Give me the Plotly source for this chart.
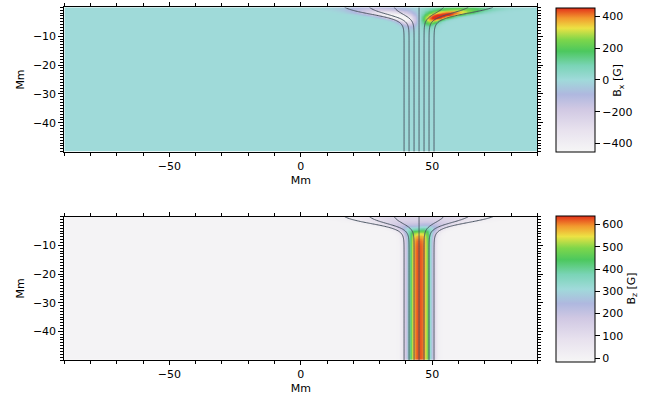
import numpy as np
import plotly.graph_objects as go

# ---- tick labels / ranges ----
X_TICKS = [-50, 0, 50]
Y_TICKS = [-40, -30, -20, -10]
CB1_TICKS = [-400, -200, 0, 200, 400]
CB2_TICKS = [0, 100, 200, 300, 400, 500, 600]
X_RANGE = [-90, 90]
Z_RANGE = [-50, 0]
BX_RANGE = [-455, 450]
BZ_RANGE = [-15, 640]

# ---- flux tube parameters ----
TUBE_CENTER = 45.0          # Mm
TUBE_HALF_WIDTH = 4.8       # Mm (deep)
PROFILE_POWER = 3
TUBE_PEAK_BZ = 625.0        # G
SURFACE_HALF_WIDTH = [26.0, 27.0]   # left, right (Mm)
FLARE_HEIGHT = [-2.4, -2.0]         # left, right (Mm)
FLARE_SCALE = [1.1, 1.15]           # left, right (Mm)
FIELD_LINE_FIRST = 39.3
FIELD_LINE_LAST = 50.7
FIELD_LINE_STEP = 1.9

# ---- colour table (IDL-like) ----
COLORSCALE = [
    [0.00, "#f6f6f6"],
    [0.15, "#e8e2ee"],
    [0.30, "#d0c8e3"],
    [0.40, "#afb8df"],
    [0.50, "#a0dada"],
    [0.60, "#7ad4b6"],
    [0.70, "#4cc85e"],
    [0.78, "#7ed64a"],
    [0.86, "#ece244"],
    [0.93, "#f29a2e"],
    [1.00, "#e2301a"],
]

# ---- build field from flux function ----
xg = np.linspace(X_RANGE[0], X_RANGE[1], 361)
zg = np.linspace(Z_RANGE[0], Z_RANGE[1], 201)
X, Z = np.meshgrid(xg, zg)

def half_width(side, z):
    ws = SURFACE_HALF_WIDTH[side]
    return TUBE_HALF_WIDTH + (ws - TUBE_HALF_WIDTH) / (1 + np.exp(-(z - FLARE_HEIGHT[side]) / FLARE_SCALE[side]))

wl = half_width(0, Z)
wr = half_width(1, Z)
blend = 0.5 * (1 + np.tanh((X - TUBE_CENTER) / 2.0))
W = wl + (wr - wl) * blend
XI = (X - TUBE_CENTER) / W

s = np.linspace(-8, 8, 8001)
fs = np.exp(-np.abs(s) ** PROFILE_POWER)
Fs = np.concatenate([[0], np.cumsum(0.5 * (fs[1:] + fs[:-1]) * np.diff(s))])
Fs -= np.interp(0, s, Fs)
PHI = TUBE_PEAK_BZ * TUBE_HALF_WIDTH
A = PHI * np.interp(XI, s, Fs)

dAdz, dAdx = np.gradient(A, zg, xg)
BZ = dAdx
BX = -dAdz
FOOT = TUBE_CENTER + TUBE_HALF_WIDTH * XI   # field-line label

FONT = dict(family="DejaVu Sans", size=11, color="black")
LINE_CS = [[0, "#4a5562"], [1, "#4a5562"]]

fig = go.Figure()

def add_panel(field, rng, ticks, title, xa, ya, cb_y, cb_len):
    fig.add_trace(go.Heatmap(
        x=xg, y=zg, z=np.round(field, 1), zmin=rng[0], zmax=rng[1],
        colorscale=COLORSCALE, zsmooth="best", xaxis=xa, yaxis=ya,
        colorbar=dict(x=555.7 / 664, xanchor="left", xpad=0, ypad=0,
                      y=cb_y, yanchor="middle", len=cb_len, lenmode="fraction",
                      thickness=39, thicknessmode="pixels",
                      outlinecolor="black", outlinewidth=1,
                      tickvals=ticks, ticks="outside", ticklen=5,
                      tickcolor="black", tickfont=FONT,
                      title=dict(text=title, side="right", font=FONT)),
    ))
    fig.add_trace(go.Contour(
        x=xg, y=zg, z=np.round(FOOT, 3), xaxis=xa, yaxis=ya,
        autocontour=False,
        contours=dict(start=FIELD_LINE_FIRST, end=FIELD_LINE_LAST + 0.01,
                      size=FIELD_LINE_STEP, coloring="lines"),
        colorscale=LINE_CS, showscale=False, line=dict(width=1),
        hoverinfo="skip",
    ))

add_panel(BX, BX_RANGE, CB1_TICKS, "B<sub>x</sub> [G]", "x", "y", 1 - 80.3 / 401, 144 / 401)
add_panel(BZ, BZ_RANGE, CB2_TICKS, "B<sub>z</sub> [G]", "x2", "y2", 1 - 288.5 / 401, 145.6 / 401)

xdom = [64.3 / 664, 537.3 / 664]
common_x = dict(range=X_RANGE, tickvals=X_TICKS, ticks="outside", ticklen=4,
                tickcolor="black", showline=True, linecolor="black", linewidth=1,
                mirror="ticks", showgrid=False, zeroline=False, tickfont=FONT,
                minor=dict(dtick=10, tick0=0, ticks="outside", ticklen=3, tickcolor="black"),
                title=dict(text="Mm", font=FONT, standoff=4))
common_y = dict(range=Z_RANGE, tickvals=Y_TICKS, ticks="outside", ticklen=5,
                tickcolor="black", showline=True, linecolor="black", linewidth=1,
                mirror="ticks", showgrid=False, zeroline=False, tickfont=FONT,
                minor=dict(dtick=1, tick0=0, ticks="outside", ticklen=3, tickcolor="black"),
                title=dict(text="Mm", font=FONT, standoff=6))

fig.update_layout(
    width=664, height=401, margin=dict(l=0, r=0, t=0, b=0, autoexpand=False),
    paper_bgcolor="white", plot_bgcolor="white", showlegend=False,
    xaxis=dict(domain=xdom, anchor="y", **common_x),
    yaxis=dict(domain=[1 - 151.7 / 401, 1 - 7.3 / 401], anchor="x", **common_y),
    xaxis2=dict(domain=xdom, anchor="y2", **common_x),
    yaxis2=dict(domain=[1 - 360 / 401, 1 - 216.7 / 401], anchor="x2", **common_y),
)

fig.write_html("out.html", config={"displayModeBar": False},
               post_script="document.body.style.margin='0px';")
